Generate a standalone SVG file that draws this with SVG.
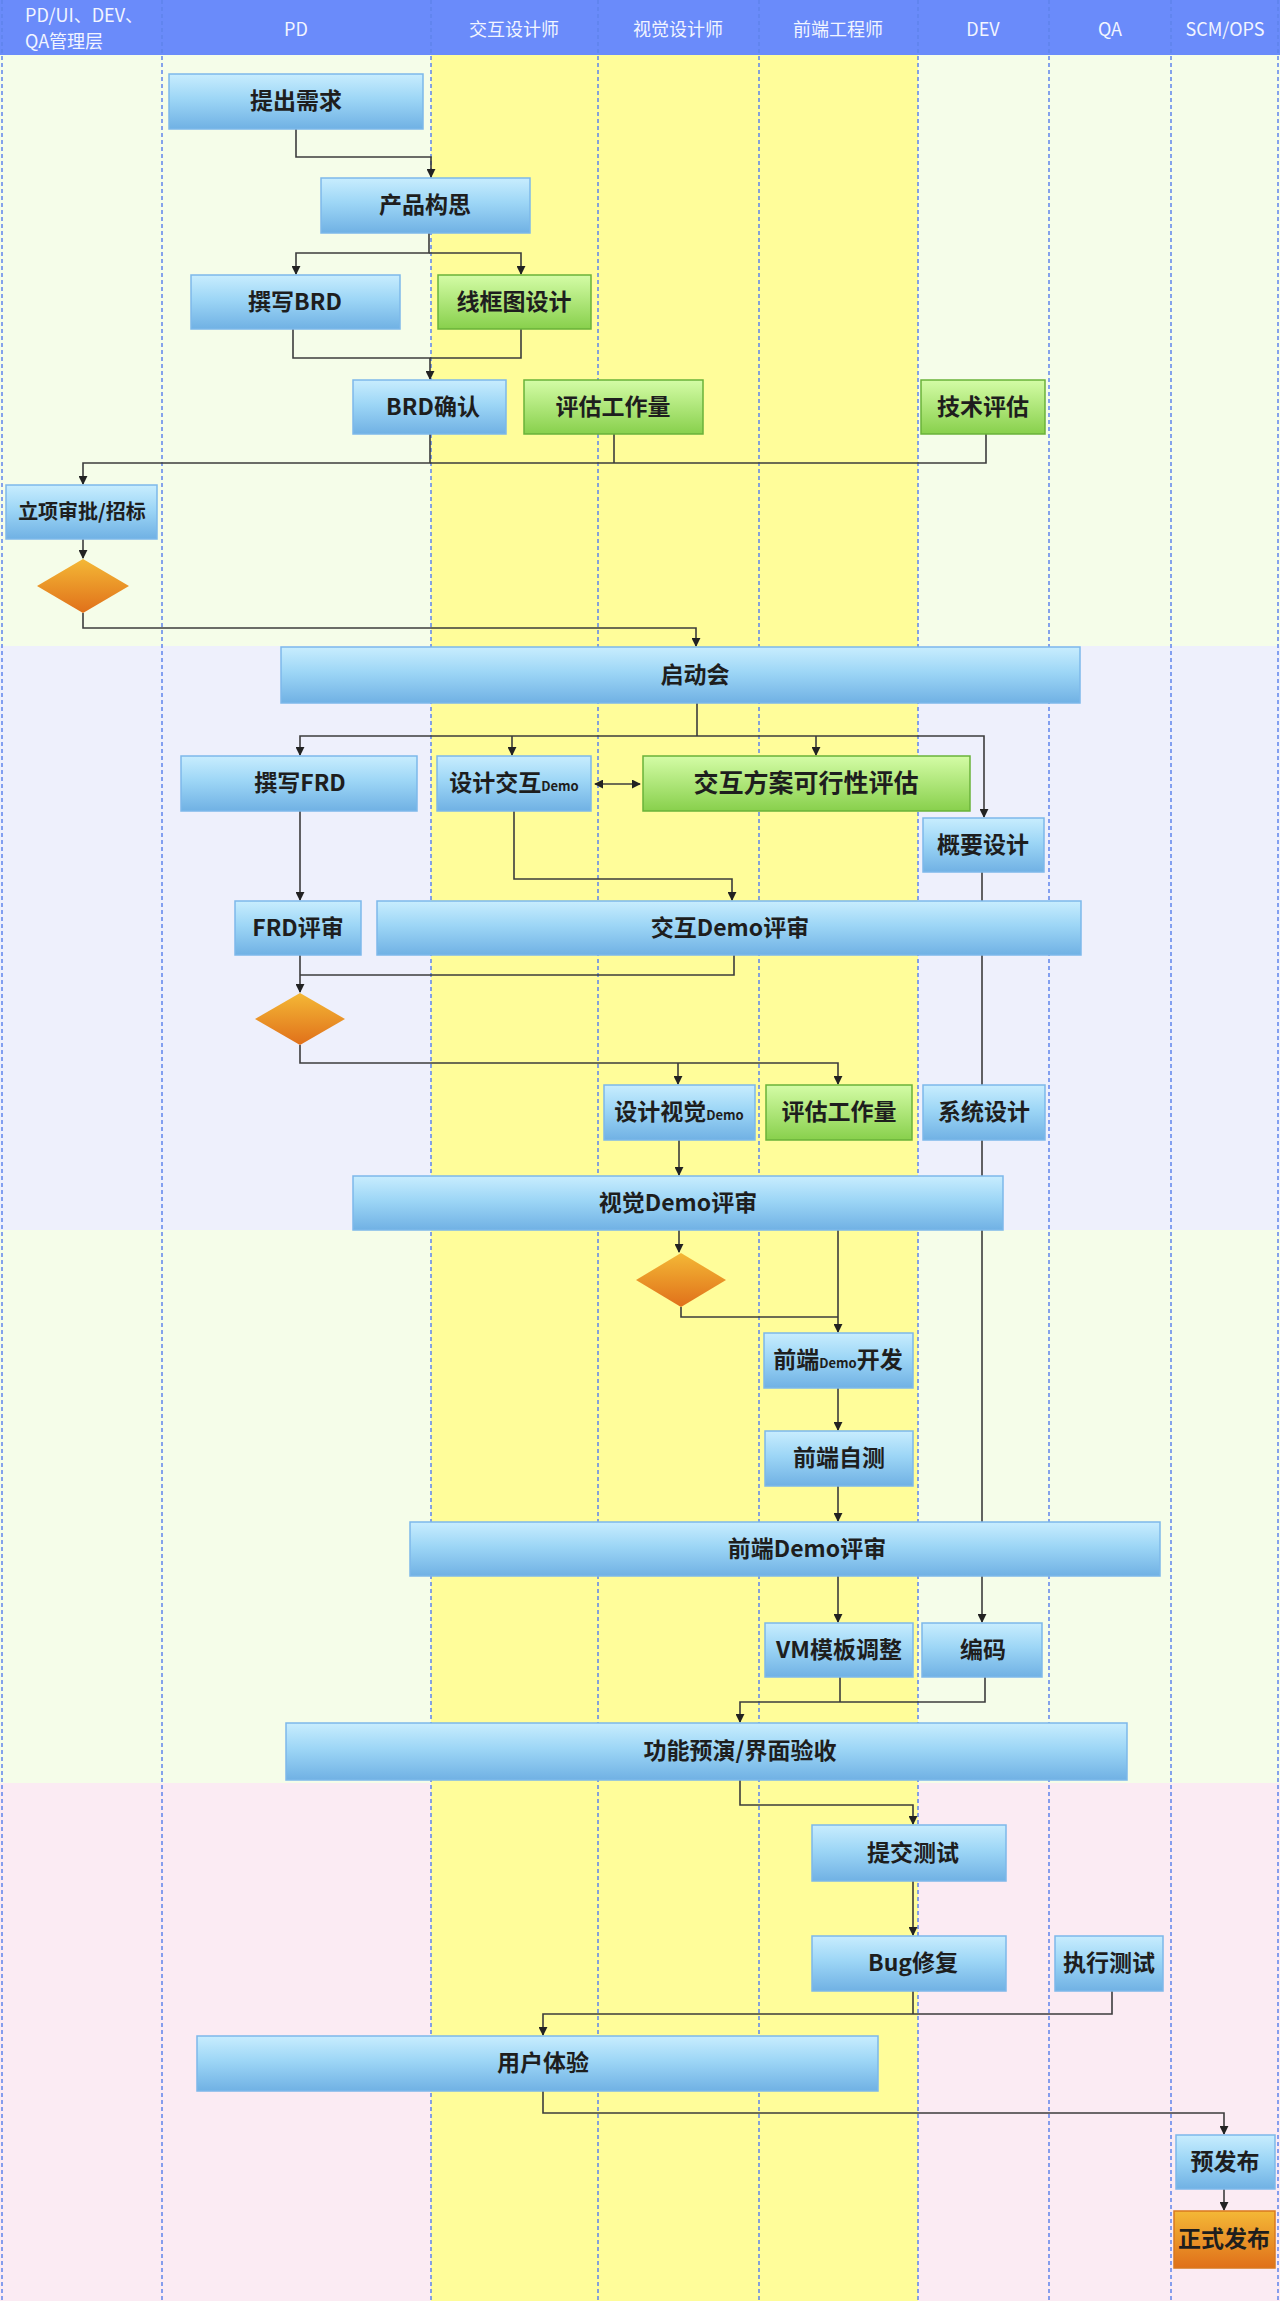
<svg xmlns="http://www.w3.org/2000/svg" width="1280" height="2301" viewBox="0 0 1280 2301">
<defs>
<linearGradient id="gBlue" x1="0" y1="0" x2="0" y2="1">
<stop offset="0" stop-color="#C8EDFE"/><stop offset="0.45" stop-color="#9DD6F6"/><stop offset="1" stop-color="#70B1E4"/>
</linearGradient>
<linearGradient id="gGreen" x1="0" y1="0" x2="0" y2="1">
<stop offset="0" stop-color="#D4FCA6"/><stop offset="1" stop-color="#88D04C"/>
</linearGradient>
<linearGradient id="gOrange" x1="0" y1="0" x2="0" y2="1">
<stop offset="0" stop-color="#F4B836"/><stop offset="1" stop-color="#E0701A"/>
</linearGradient>
<marker id="arr" viewBox="0 0 10 10" refX="9" refY="5" markerWidth="9" markerHeight="9" markerUnits="userSpaceOnUse" orient="auto">
<path d="M0,0 L10,5 L0,10 z" fill="#222"/>
</marker>
<marker id="arrS" viewBox="0 0 10 10" refX="1" refY="5" markerWidth="9" markerHeight="9" markerUnits="userSpaceOnUse" orient="auto">
<path d="M10,0 L0,5 L10,10 z" fill="#222"/>
</marker>
<style>
.blue{fill:url(#gBlue);stroke:#7DB8EA;stroke-width:1.5}
.green{fill:url(#gGreen);stroke:#6AB23A;stroke-width:1.5}
.orange{fill:url(#gOrange);stroke:#D97A1F;stroke-width:1.5}
.dia{fill:url(#gOrange);stroke:none}
.t{font-family:"Noto Sans CJK SC","Liberation Sans",sans-serif;font-size:23px;font-weight:bold;fill:#1E1E1E;text-anchor:middle}
.sm{font-size:13px}
.h{font-family:"Noto Sans CJK SC","Liberation Sans",sans-serif;font-size:18px;fill:#F2F5FF;text-anchor:middle}
.lane{stroke:#5F84EC;stroke-width:1.5;stroke-dasharray:4 3;fill:none}
.c{fill:none;stroke:#3C3C3C;stroke-width:1.6}
.ca{fill:none;stroke:#3C3C3C;stroke-width:1.6;marker-end:url(#arr)}
</style>
</defs>
<g id="background">
<rect x="0" y="0" width="1280" height="2301" fill="#F5FDE9"/>
<rect x="0" y="646" width="1280" height="584" fill="#EEF0FC"/>
<rect x="0" y="1783" width="1280" height="518" fill="#FBEBF3"/>
<rect x="431" y="55" width="487" height="2246" fill="#FFFD9A"/>
<rect x="0" y="0" width="1280" height="55" fill="#6A8BFA"/>
</g>
<g id="lanes">
<line class="lane" x1="2" y1="0" x2="2" y2="2301"/>
<line class="lane" x1="162" y1="0" x2="162" y2="2301"/>
<line class="lane" x1="431" y1="0" x2="431" y2="2301"/>
<line class="lane" x1="598" y1="0" x2="598" y2="2301"/>
<line class="lane" x1="759" y1="0" x2="759" y2="2301"/>
<line class="lane" x1="918" y1="0" x2="918" y2="2301"/>
<line class="lane" x1="1049" y1="0" x2="1049" y2="2301"/>
<line class="lane" x1="1171" y1="0" x2="1171" y2="2301"/>
<line class="lane" x1="1278" y1="0" x2="1278" y2="2301"/>
</g>
<g id="headers">
<text class="h" x="25" y="22" style="text-anchor:start">PD/UI、DEV、</text>
<text class="h" x="25" y="48" style="text-anchor:start">QA管理层</text>
<text class="h" x="296" y="36">PD</text>
<text class="h" x="514" y="36">交互设计师</text>
<text class="h" x="678" y="36">视觉设计师</text>
<text class="h" x="838" y="36">前端工程师</text>
<text class="h" x="983" y="36">DEV</text>
<text class="h" x="1110" y="36">QA</text>
<text class="h" x="1225" y="36">SCM/OPS</text>
</g>
<g id="connectors">
<path class="ca" d="M296,129 V157 H431 V177"/>
<path class="ca" d="M429,233 V253 H296 V274"/>
<path class="ca" d="M429,253 H521 V274"/>
<path class="ca" d="M293,329 V358 H430 V379"/>
<path class="c" d="M521,329 V358 H430"/>
<path class="ca" d="M430,434 V463 H83 V484"/>
<path class="c" d="M614,434 V463"/>
<path class="c" d="M986,434 V463 H430"/>
<path class="ca" d="M83,539 V558"/>
<path class="ca" d="M83,613 V628 H696 V646"/>
<path class="c" d="M697,703 V736"/>
<path class="ca" d="M697,736 H300 V755"/>
<path class="ca" d="M697,736 H984 V817"/>
<path class="ca" d="M512,736 V755"/>
<path class="ca" d="M816,736 V755"/>
<path class="c" d="M595,784 H640" stroke-width="2.2" marker-start="url(#arrS)" marker-end="url(#arr)"/>
<path class="ca" d="M300,811 V900"/>
<path class="ca" d="M514,811 V879 H732 V900"/>
<path class="ca" d="M982,872 V1622"/>
<path class="ca" d="M300,955 V992"/>
<path class="c" d="M734,955 V975 H300"/>
<path class="ca" d="M300,1045 V1063 H838 V1084"/>
<path class="ca" d="M678,1063 V1084"/>
<path class="ca" d="M679,1140 V1175"/>
<path class="ca" d="M679,1230 V1252"/>
<path class="c" d="M681,1307 V1317 H838"/>
<path class="ca" d="M838,1230 V1332"/>
<path class="ca" d="M838,1388 V1430"/>
<path class="ca" d="M838,1486 V1521"/>
<path class="ca" d="M838,1576 V1622"/>
<path class="c" d="M840,1677 V1702"/>
<path class="ca" d="M985,1677 V1702 H740 V1722"/>
<path class="ca" d="M740,1780 V1805 H913 V1824"/>
<path class="ca" d="M913,1881 V1935"/>
<path class="c" d="M913,1991 V2014"/>
<path class="ca" d="M1112,1991 V2014 H543 V2035"/>
<path class="ca" d="M543,2091 V2113 H1224 V2134"/>
<path class="ca" d="M1224,2189 V2210"/>
</g>
<g id="n1"><rect class="blue" x="169" y="74" width="254" height="55"/><text class="t" x="296" y="109">提出需求</text></g>
<g id="n2"><rect class="blue" x="321" y="178" width="209" height="55"/><text class="t" x="425" y="213">产品构思</text></g>
<g id="n3"><rect class="blue" x="191" y="275" width="209" height="54"/><text class="t" x="295" y="310">撰写BRD</text></g>
<g id="n4"><rect class="green" x="438" y="275" width="153" height="54"/><text class="t" x="514" y="310">线框图设计</text></g>
<g id="n5"><rect class="blue" x="353" y="380" width="153" height="54"/><text class="t" x="433" y="415">BRD确认</text></g>
<g id="n6"><rect class="green" x="524" y="380" width="179" height="54"/><text class="t" x="613" y="415">评估工作量</text></g>
<g id="n7"><rect class="green" x="921" y="380" width="124" height="54"/><text class="t" x="983" y="415">技术评估</text></g>
<g id="n8"><rect class="blue" x="6" y="485" width="151" height="54"/><text class="t" x="82" y="519" style="font-size:20px">立项审批/招标</text></g>
<g id="d1"><path class="dia" d="M83,559 L129,586 L83,613 L37,586 Z"/></g>
<g id="n9"><rect class="blue" x="281" y="647" width="799" height="56"/><text class="t" x="695" y="683">启动会</text></g>
<g id="n10"><rect class="blue" x="181" y="756" width="236" height="55"/><text class="t" x="300" y="791">撰写FRD</text></g>
<g id="n11"><rect class="blue" x="437" y="756" width="154" height="55"/><text class="t" x="514" y="791">设计交互<tspan class="sm">Demo</tspan></text></g>
<g id="n12"><rect class="green" x="643" y="756" width="327" height="55"/><text class="t" x="806" y="792" style="font-size:25px">交互方案可行性评估</text></g>
<g id="n13"><rect class="blue" x="923" y="818" width="121" height="54"/><text class="t" x="983" y="853">概要设计</text></g>
<g id="n14"><rect class="blue" x="235" y="901" width="126" height="54"/><text class="t" x="298" y="936">FRD评审</text></g>
<g id="n15"><rect class="blue" x="377" y="901" width="704" height="54"/><text class="t" x="730" y="936">交互Demo评审</text></g>
<g id="d2"><path class="dia" d="M300,993 L345,1019 L300,1045 L255,1019 Z"/></g>
<g id="n16"><rect class="blue" x="604" y="1085" width="151" height="55"/><text class="t" x="679" y="1120">设计视觉<tspan class="sm">Demo</tspan></text></g>
<g id="n17"><rect class="green" x="766" y="1085" width="146" height="55"/><text class="t" x="839" y="1120">评估工作量</text></g>
<g id="n18"><rect class="blue" x="923" y="1085" width="122" height="55"/><text class="t" x="984" y="1120">系统设计</text></g>
<g id="n19"><rect class="blue" x="353" y="1176" width="650" height="54"/><text class="t" x="678" y="1211">视觉Demo评审</text></g>
<g id="d3"><path class="dia" d="M681,1253 L726,1280 L681,1307 L636,1280 Z"/></g>
<g id="n20"><rect class="blue" x="764" y="1333" width="149" height="55"/><text class="t" x="838" y="1368">前端<tspan class="sm">Demo</tspan>开发</text></g>
<g id="n21"><rect class="blue" x="765" y="1431" width="148" height="55"/><text class="t" x="839" y="1466">前端自测</text></g>
<g id="n22"><rect class="blue" x="410" y="1522" width="750" height="54"/><text class="t" x="807" y="1557">前端Demo评审</text></g>
<g id="n23"><rect class="blue" x="765" y="1623" width="148" height="54"/><text class="t" x="839" y="1658">VM模板调整</text></g>
<g id="n24"><rect class="blue" x="922" y="1623" width="120" height="54"/><text class="t" x="983" y="1658">编码</text></g>
<g id="n25"><rect class="blue" x="286" y="1723" width="841" height="57"/><text class="t" x="740" y="1759">功能预演/界面验收</text></g>
<g id="n26"><rect class="blue" x="812" y="1825" width="194" height="56"/><text class="t" x="913" y="1861">提交测试</text></g>
<g id="n27"><rect class="blue" x="812" y="1936" width="194" height="55"/><text class="t" x="913" y="1971">Bug修复</text></g>
<g id="n28"><rect class="blue" x="1055" y="1936" width="108" height="55"/><text class="t" x="1109" y="1971">执行测试</text></g>
<g id="n29"><rect class="blue" x="197" y="2036" width="681" height="55"/><text class="t" x="543" y="2071">用户体验</text></g>
<g id="n30"><rect class="blue" x="1176" y="2135" width="99" height="54"/><text class="t" x="1225" y="2170">预发布</text></g>
<g id="n31"><rect class="orange" x="1174" y="2211" width="101" height="57"/><text class="t" x="1224" y="2247">正式发布</text></g>
</svg>
